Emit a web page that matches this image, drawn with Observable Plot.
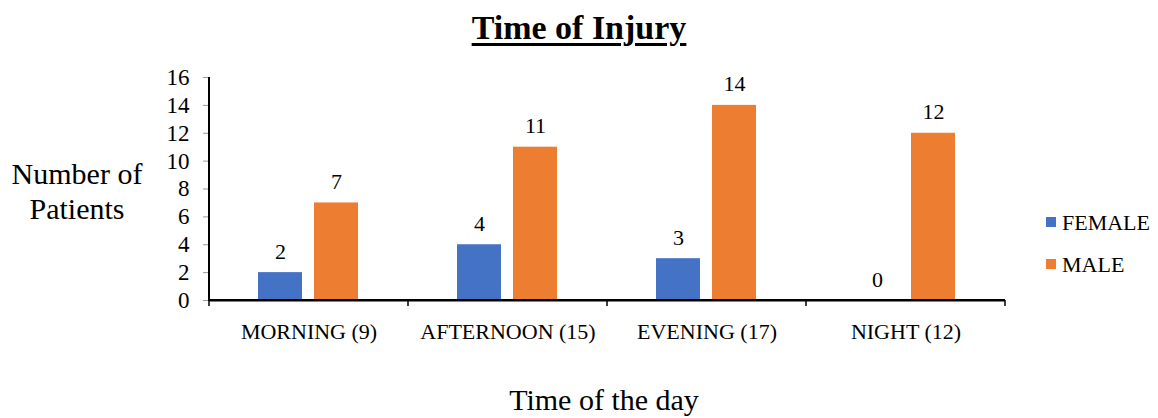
<!DOCTYPE html>
<html>
<head>
<meta charset="utf-8">
<script src="https://cdn.jsdelivr.net/npm/d3@7"></script>
<script src="https://cdn.jsdelivr.net/npm/@observablehq/plot@0.6"></script>
<style>
  body { margin: 0; background: #fff; }
  #wrap { width: 1158px; height: 418px; position: relative; font-family: "Liberation Serif", "Times New Roman", serif; }
  #title { height: 55px; line-height: 56px; text-align: center; font-size: 34px; font-weight: bold; text-decoration: underline; text-decoration-thickness: 3px; text-underline-offset: 4px; color: #000; }
  #chart svg text { font-family: "Liberation Serif", "Times New Roman", serif; font-variant: normal; }
</style>
</head>
<body>
<div id="wrap">
  <div id="title">Time of Injury</div>
  <div id="chart"></div>
</div>
<script>
const groups = ["MORNING (9)", "AFTERNOON (15)", "EVENING (17)", "NIGHT (12)"];
const series = ["FEMALE", "MALE"];
const femaleValues = [2, 4, 3, 0];
const maleValues = [7, 11, 14, 12];
const yTicks = [0, 2, 4, 6, 8, 10, 12, 14, 16];
const colors = ["#4472C4", "#ED7D31"];
const yLabelLines = ["Number of", "Patients"];
const xLabel = "Time of the day";

const data = [];
groups.forEach((g, i) => {
  data.push({group: g, sex: series[0], value: femaleValues[i]});
  data.push({group: g, sex: series[1], value: maleValues[i]});
});

const plot = Plot.plot({
  width: 1158,
  height: 363,
  marginLeft: 209,
  marginRight: 153,
  marginTop: 22,
  marginBottom: 118,
  style: {fontFamily: "Liberation Serif, Times New Roman, serif", fontSize: "22px", color: "#000", background: "#fff"},
  fx: {domain: groups, padding: 0, label: null, axis: null},
  x: {domain: series, paddingInner: 0.2105, paddingOuter: 0.851, axis: null},
  y: {domain: [0, 16], axis: null},
  color: {domain: series, range: colors},
  marks: [
    Plot.barY(data, {fx: "group", x: "sex", y: "value", fill: "sex"}),
    Plot.text(data, {fx: "group", x: "sex", y: "value", text: d => String(d.value), dy: -21, fontSize: 22, fill: "#000", fontVariant: "normal"}),
    Plot.axisFx({domain: groups, tickSize: 0, tickPadding: 23, label: null, fontSize: 22, anchor: "bottom"}),
    Plot.axisY({ticks: yTicks, tickSize: 6, tickPadding: 14, label: null, fontSize: 23, stroke: "#999", fontVariant: "normal"}),
    Plot.ruleY([0], {stroke: "#000", strokeWidth: 2})
  ]
});

document.getElementById("chart").appendChild(plot);

const svg = d3.select(plot);
const fx = plot.scale("fx");
const y = plot.scale("y");
const y0 = y.apply(0), y16 = y.apply(16);
const left = fx.apply(groups[0]);
const right = fx.apply(groups[groups.length - 1]) + fx.bandwidth;

// y axis line
svg.append("line").attr("x1", left).attr("x2", left).attr("y1", y16).attr("y2", y0 + 1)
  .attr("stroke", "#000").attr("stroke-width", 2);
// x axis line and group boundary ticks
svg.append("line").attr("x1", left).attr("x2", right).attr("y1", y0).attr("y2", y0)
  .attr("stroke", "#000").attr("stroke-width", 2);
const bounds = groups.map(g => fx.apply(g)).concat([right]);
bounds.forEach(b => {
  svg.append("line").attr("x1", b).attr("x2", b).attr("y1", y0).attr("y2", y0 + 6)
    .attr("stroke", "#000").attr("stroke-width", 1.5);
});

// y label
const yl = svg.append("text").attr("text-anchor", "middle").attr("font-size", 30)
  .attr("font-family", "Liberation Serif, serif").attr("fill", "#000");
yLabelLines.forEach((t, i) => {
  yl.append("tspan").attr("x", 77).attr("y", 129 + i * 35).text(t);
});
// x label
svg.append("text").attr("x", 604).attr("y", 355).attr("text-anchor", "middle")
  .attr("font-size", 30).attr("font-family", "Liberation Serif, serif").attr("fill", "#000").text(xLabel);

// legend
series.forEach((s, i) => {
  const cy = 167 + i * 42;
  svg.append("rect").attr("x", 1046).attr("y", cy - 5).attr("width", 10).attr("height", 10).attr("fill", colors[i]);
  svg.append("text").attr("x", 1062).attr("y", cy).attr("dy", "0.35em").attr("text-anchor", "start").attr("font-size", 22)
    .attr("font-family", "Liberation Serif, serif").attr("fill", "#000").text(s);
});
</script>
</body>
</html>
